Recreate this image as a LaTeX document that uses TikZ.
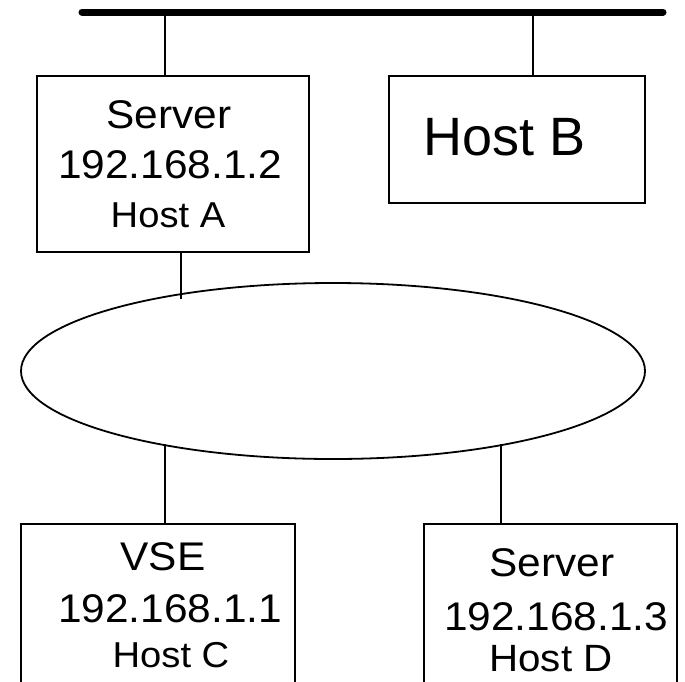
\documentclass[tikz,border=0pt]{standalone}
\usepackage{fontspec}
\setmainfont{Liberation Sans}
\usetikzlibrary{shapes.geometric}

% slightly widened lettering
\newcommand{\widetxt}[1]{\scalebox{1.06}[1]{#1}}

\tikzset{
  hostbox/.style={draw, line width=1.8pt, rectangle, inner sep=0pt, outer sep=0pt},
  netcloud/.style={draw, line width=1.8pt, ellipse, inner sep=0pt, outer sep=0pt},
  link/.style={line width=1.8pt},
  busline/.style={line width=7pt, line cap=round},
  lbl/.style={anchor=base, inner sep=0pt, outer sep=0pt},
  bigtxt/.style={lbl, font=\fontsize{40}{48}\selectfont},
  midtxt/.style={lbl, font=\fontsize{38}{46}\selectfont},
  smalltxt/.style={lbl, font=\fontsize{36}{44}\selectfont},
  hugetxt/.style={lbl, font=\fontsize{54}{64}\selectfont},
}

\begin{document}
\begin{tikzpicture}[x=1pt, y=-1pt]
\useasboundingbox (0,0) rectangle (685,681);

% backbone bus
\coordinate (busL) at (82,12);
\coordinate (busR) at (663,12);
\draw[busline] (busL) -- (busR);

% hosts
\node[hostbox, minimum width=272pt, minimum height=176pt] (hostA) at (173,164) {};
\node[hostbox, minimum width=256pt, minimum height=127pt] (hostB) at (517,139.5) {};
\node[hostbox, minimum width=274pt, minimum height=196pt] (hostC) at (158,622) {};
\node[hostbox, minimum width=253pt, minimum height=196pt] (hostD) at (550.5,622) {};

% network cloud
\node[netcloud, minimum width=624pt, minimum height=176pt] (net) at (333,371) {};

% taps
\coordinate (tapA) at (165,12);
\coordinate (tapB) at (533,12);
\coordinate (netA) at (181,299);
\coordinate (netC) at (165,444);
\coordinate (netD) at (501,444);

\draw[link] (tapA) -- (tapA |- hostA.north);
\draw[link] (tapB) -- (tapB |- hostB.north);
\draw[link] (netA |- hostA.south) -- (netA);
\draw[link] (netC) -- (netC |- hostC.north);
\draw[link] (netD) -- (netD |- hostD.north);

% labels
\node[bigtxt] (aRole) at (169,128) {\widetxt{Server}};
\node[bigtxt] (aIp) at (170,178) {\widetxt{192.168.1.2}};
\node[smalltxt] (aName) at (168,227) {\widetxt{Host A}};

\node[hugetxt] (bName) at (505,155) {Host B};

\node[bigtxt] (cRole) at (163,570) {\widetxt{VSE}};
\node[bigtxt] (cIp) at (170,622) {\widetxt{192.168.1.1}};
\node[smalltxt] (cName) at (171,667) {\widetxt{Host C}};

\node[bigtxt] (dRole) at (552,576) {\widetxt{Server}};
\node[bigtxt] (dIp) at (556,630) {\widetxt{192.168.1.3}};
\node[midtxt] (dName) at (551,671) {\widetxt{Host D}};
\end{tikzpicture}
\end{document}
